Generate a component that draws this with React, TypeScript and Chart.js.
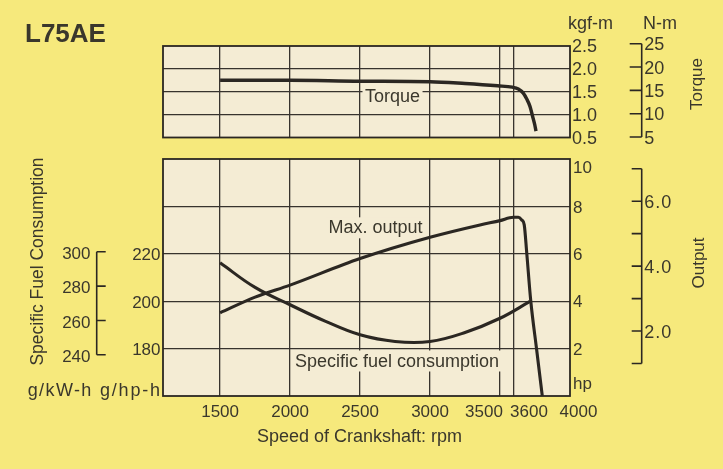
import React, { useEffect, useRef } from 'react';
import { Chart, registerables } from 'chart.js';

Chart.register(...registerables);

// ---------- data ----------
const rpmGridLines = [1500, 2000, 2500, 3000, 3500, 3600];
const rpmTickLabels = [1500, 2000, 2500, 3000, 3500, 3600, 4000];

const torqueRpm = [1500, 2000, 2500, 3000, 3250, 3483, 3588, 3631, 3666, 3691, 3714, 3733, 3748, 3757];
const torqueKgfm = [1.75, 1.75, 1.73, 1.72, 1.68, 1.63, 1.6, 1.56, 1.47, 1.34, 1.18, 0.96, 0.78, 0.64];

const outputRpm = [1500, 1750, 2000, 2500, 3000, 3357, 3500, 3595, 3631, 3655, 3673, 3691, 3719, 3762, 3802];
const outputHp = [3.51, 4.17, 4.68, 5.8, 6.7, 7.22, 7.4, 7.54, 7.54, 7.43, 7.22, 6.03, 4.05, 1.94, 0];

const sfcRpm = [1500, 1750, 2000, 2250, 2500, 2750, 3000, 3250, 3500, 3714];
const sfcGhph = [216.2, 205.8, 198.5, 191.6, 185.8, 183.0, 183.0, 186.8, 192.8, 199.9];

const kgfmGrid = [1.0, 1.5, 2.0];
const kgfmTicks = [0.5, 1.0, 1.5, 2.0, 2.5];
const nmTicks = [5, 10, 15, 20, 25];
const hpGrid = [2, 4, 6, 8];
const hpTicks = [2, 4, 6, 8, 10];
const ghphTicks = [180, 200, 220];
const gkwhTicks = [240, 260, 280, 300];
const kwTicks = [1, 2, 3, 4, 5, 6, 7];
const kwLabelTicks = [2, 4, 6];

// ---------- styling ----------
const FONT = "'Liberation Sans', Arial, Helvetica, sans-serif";
const INK = '#3a372c';
const LINE = '#2b2722';
const GRID = '#37332d';
const CREAM = '#f4ecd4';
const YELLOW = '#f6e97c';
const KGF_TO_NM = 9.80665;

const xLabelNudge: Record<number, number> = { 3500: -16, 3600: 15, 4000: 8.5 };
const hpLabelNudge: Record<number, number> = { 10: 8 };

type TOpts = { bold?: boolean; align?: CanvasTextAlign; baseline?: CanvasTextBaseline; rotate?: number; spacing?: number };

function text(ctx: CanvasRenderingContext2D, s: string, x: number, y: number, size: number, o: TOpts = {}) {
  ctx.save();
  ctx.font = `${o.bold ? 'bold ' : ''}${size}px ${FONT}`;
  ctx.fillStyle = INK;
  ctx.textAlign = o.align || 'left';
  ctx.textBaseline = o.baseline || 'alphabetic';
  if (o.spacing) (ctx as any).letterSpacing = `${o.spacing}px`;
  if (o.rotate) {
    ctx.translate(x, y);
    ctx.rotate(o.rotate);
    ctx.fillText(s, 0, 0);
  } else {
    ctx.fillText(s, x, y);
  }
  ctx.restore();
}

function boxedLabel(ctx: CanvasRenderingContext2D, s: string, x: number, baseline: number, size: number) {
  ctx.save();
  ctx.font = `${size}px ${FONT}`;
  const w = ctx.measureText(s).width;
  ctx.fillStyle = CREAM;
  ctx.fillRect(x - 2.5, baseline - size + 2, w + 5, size + 3);
  ctx.restore();
  text(ctx, s, x, baseline, size);
}

function bracket(ctx: CanvasRenderingContext2D, x: number, yTop: number, yBot: number, ticks: number[], dir: number, len: number) {
  ctx.save();
  ctx.strokeStyle = LINE;
  ctx.lineWidth = 1.6;
  ctx.beginPath();
  ctx.moveTo(x, yTop);
  ctx.lineTo(x, yBot);
  for (const y of ticks) {
    ctx.moveTo(x, y);
    ctx.lineTo(x + dir * len, y);
  }
  ctx.stroke();
  ctx.restore();
}

function frame(chart: any) {
  const { ctx, chartArea: a } = chart;
  ctx.save();
  ctx.strokeStyle = LINE;
  ctx.lineWidth = 1.8;
  ctx.strokeRect(a.left, a.top, a.right - a.left, a.bottom - a.top);
  ctx.restore();
}

function creamBg(chart: any) {
  const { ctx, chartArea: a } = chart;
  ctx.save();
  ctx.fillStyle = CREAM;
  ctx.fillRect(a.left, a.top, a.right - a.left, a.bottom - a.top);
  ctx.restore();
}

const topDecor = {
  id: 'topDecor',
  beforeDraw(chart: any) {
    creamBg(chart);
  },
  beforeDatasetsDraw(chart: any) {
    boxedLabel(chart.ctx, 'Torque', 365, 101.5, 18);
    frame(chart);
  },
  afterDraw(chart: any) {
    const ctx = chart.ctx as CanvasRenderingContext2D;
    const ys = chart.scales.y;
    const nm = chart.scales.nm;
    const a = chart.chartArea;
    text(ctx, 'L75AE', 25, 41.5, 26, { bold: true });
    text(ctx, 'kgf-m', a.right - 2, 29, 18);
    text(ctx, 'N-m', 643, 28.5, 18);
    for (const v of kgfmTicks) {
      text(ctx, v.toFixed(1), a.right + 2, ys.getPixelForValue(v) + 1.5, 18, { baseline: 'middle' });
    }
    const bx = 641.7;
    bracket(ctx, bx, nm.getPixelForValue(25), nm.getPixelForValue(5), nmTicks.map((v) => nm.getPixelForValue(v)), -1, 12);
    for (const v of nmTicks) {
      text(ctx, String(v), bx + 2.5, nm.getPixelForValue(v) + 1.5, 18, { baseline: 'middle' });
    }
    text(ctx, 'Torque', 697, 84, 17, { align: 'center', baseline: 'middle', rotate: -Math.PI / 2 });
  },
};

const botDecor = {
  id: 'botDecor',
  beforeDraw(chart: any) {
    creamBg(chart);
  },
  beforeDatasetsDraw(chart: any) {
    boxedLabel(chart.ctx, 'Max. output', 328.5, 233.3, 18);
    boxedLabel(chart.ctx, 'Specific fuel consumption', 295, 366.5, 18);
    frame(chart);
  },
  afterDraw(chart: any) {
    const ctx = chart.ctx as CanvasRenderingContext2D;
    const xs = chart.scales.x;
    const hp = chart.scales.y;
    const sfc = chart.scales.ySfc;
    const kw = chart.scales.kw;
    const gkw = chart.scales.gkw;
    const a = chart.chartArea;

    for (const v of rpmTickLabels) {
      text(ctx, String(v), xs.getPixelForValue(v) + (xLabelNudge[v] || 0), 416.5, 17, { align: 'center' });
    }
    text(ctx, 'Speed of Crankshaft: rpm', 359.5, 441.5, 18, { align: 'center' });

    for (const v of hpTicks) {
      text(ctx, String(v), a.right + 3, hp.getPixelForValue(v) + 1.5 + (hpLabelNudge[v] || 0), 17, { baseline: 'middle' });
    }
    text(ctx, 'hp', a.right + 3, 389, 17);

    for (const v of ghphTicks) {
      text(ctx, String(v), a.left - 2.5, sfc.getPixelForValue(v) + 2, 17, { align: 'right', baseline: 'middle' });
    }
    const lx = 96.7;
    bracket(ctx, lx, gkw.getPixelForValue(300), gkw.getPixelForValue(240), gkwhTicks.map((v) => gkw.getPixelForValue(v)), 1, 9);
    for (const v of gkwhTicks) {
      text(ctx, String(v), 90.5, gkw.getPixelForValue(v) + 2.5, 17, { align: 'right', baseline: 'middle' });
    }
    text(ctx, 'g/kW-h', 27.7, 396, 18, { spacing: 1.4 });
    text(ctx, 'g/hp-h', 100, 396, 18, { spacing: 1.8 });
    text(ctx, 'Specific Fuel Consumption', 38, 261.5, 17.5, { align: 'center', baseline: 'middle', rotate: -Math.PI / 2 });

    const rx = 641.7;
    bracket(ctx, rx, kw.getPixelForValue(7), kw.getPixelForValue(1), kwTicks.map((v) => kw.getPixelForValue(v)), -1, 10);
    for (const v of kwLabelTicks) {
      text(ctx, v.toFixed(1), rx + 2.5, kw.getPixelForValue(v) + 2, 18, { baseline: 'middle', spacing: 1 });
    }
    text(ctx, 'Output', 699, 263, 17, { align: 'center', baseline: 'middle', rotate: -Math.PI / 2 });
  },
};

const gridOpts = { color: GRID, lineWidth: 1.3, drawTicks: false };

function xScale() {
  return {
    type: 'linear' as const,
    min: 1092,
    max: 4000,
    position: 'bottom' as const,
    ticks: { display: false },
    grid: gridOpts,
    border: { display: false },
    afterBuildTicks: (s: any) => {
      s.ticks = rpmGridLines.map((v) => ({ value: v }));
    },
    afterFit: (s: any) => {
      s.height = 0;
    },
  };
}

export default function App() {
  const topRef = useRef<HTMLCanvasElement>(null);
  const botRef = useRef<HTMLCanvasElement>(null);

  useEffect(() => {
    const top = new Chart(topRef.current!, {
      type: 'line',
      data: {
        datasets: [
          {
            label: 'Torque',
            data: torqueRpm.map((x, i) => ({ x, y: torqueKgfm[i] })),
            borderColor: LINE,
            borderWidth: 3.4,
            pointRadius: 0,
            cubicInterpolationMode: 'monotone',
            yAxisID: 'y',
          },
        ],
      },
      options: {
        responsive: false,
        animation: false,
        events: [],
        layout: { padding: { left: 163, right: 153, top: 46, bottom: 331.5 } },
        plugins: { legend: { display: false }, tooltip: { enabled: false } },
        scales: {
          x: xScale(),
          y: {
            type: 'linear',
            min: 0.5,
            max: 2.5,
            position: 'right',
            ticks: { display: false },
            grid: gridOpts,
            border: { display: false },
            afterBuildTicks: (s: any) => {
              s.ticks = kgfmGrid.map((v) => ({ value: v }));
            },
            afterFit: (s: any) => {
              s.width = 0;
            },
          },
          nm: { type: 'linear', axis: 'y', position: 'right', display: false, min: 0.5 * KGF_TO_NM, max: 2.5 * KGF_TO_NM },
        },
      } as any,
      plugins: [topDecor],
    });

    const bot = new Chart(botRef.current!, {
      type: 'line',
      data: {
        datasets: [
          {
            label: 'Max. output',
            data: outputRpm.map((x, i) => ({ x, y: outputHp[i] })),
            borderColor: LINE,
            borderWidth: 3.1,
            pointRadius: 0,
            cubicInterpolationMode: 'monotone',
            yAxisID: 'y',
          },
          {
            label: 'Specific fuel consumption',
            data: sfcRpm.map((x, i) => ({ x, y: sfcGhph[i] })),
            borderColor: LINE,
            borderWidth: 3.1,
            pointRadius: 0,
            tension: 0.4,
            yAxisID: 'ySfc',
          },
        ],
      },
      options: {
        responsive: false,
        animation: false,
        events: [],
        layout: { padding: { left: 163, right: 153, top: 159, bottom: 73 } },
        plugins: { legend: { display: false }, tooltip: { enabled: false } },
        scales: {
          x: xScale(),
          y: {
            type: 'linear',
            min: 0,
            max: 10,
            position: 'right',
            ticks: { display: false },
            grid: gridOpts,
            border: { display: false },
            afterBuildTicks: (s: any) => {
              s.ticks = hpGrid.map((v) => ({ value: v }));
            },
            afterFit: (s: any) => {
              s.width = 0;
            },
          },
          ySfc: { type: 'linear', axis: 'y', position: 'left', display: false, min: 160, max: 260 },
          kw: { type: 'linear', axis: 'y', position: 'right', display: false, min: 0, max: 7.3 },
          gkw: { type: 'linear', axis: 'y', position: 'left', display: false, min: 216, max: 354 },
        },
      } as any,
      plugins: [botDecor],
    });

    return () => {
      top.destroy();
      bot.destroy();
    };
  }, []);

  const cs: React.CSSProperties = { position: 'absolute', left: 0, top: 0, width: 723, height: 469 };
  return (
    <div style={{ position: 'fixed', left: 0, top: 0, width: 723, height: 469, background: YELLOW, overflow: 'hidden' }}>
      <canvas ref={botRef} width={723} height={469} style={cs} />
      <canvas ref={topRef} width={723} height={469} style={cs} />
    </div>
  );
}
